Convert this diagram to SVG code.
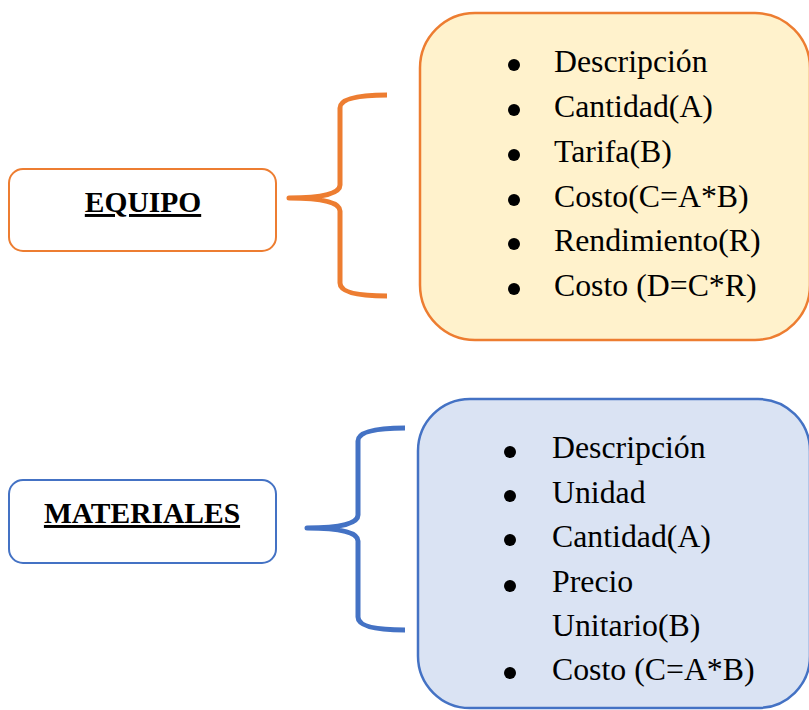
<svg xmlns="http://www.w3.org/2000/svg" width="809" height="710" viewBox="0 0 809 710">
<style>
.title{font-family:"Liberation Serif","Times New Roman",serif;font-weight:bold;font-size:29.5px;text-decoration:underline;fill:#000;text-anchor:middle}
.item{font-family:"Liberation Serif","Times New Roman",serif;font-size:31.8px;fill:#000}
.org{stroke:#ED7D31}
.blu{stroke:#4472C4}
.brace{fill:none;stroke-width:5;stroke-linejoin:round}
.dot{fill:#000}
</style>
<rect width="809" height="710" fill="#fff"/>
<g id="equipo">
<rect x="9" y="169" width="267" height="82" rx="14" fill="#fff" class="org" stroke-width="2"/>
<text x="143" y="212" class="title">EQUIPO</text>
</g>
<g id="equipo-list">
<rect x="420" y="13" width="390" height="327" rx="55" fill="#FFF2CC" class="org" stroke-width="2.5"/>
<circle cx="514" cy="65" r="6" class="dot"/>
<circle cx="514" cy="110" r="6" class="dot"/>
<circle cx="514" cy="155" r="6" class="dot"/>
<circle cx="514" cy="200" r="6" class="dot"/>
<circle cx="514" cy="244" r="6" class="dot"/>
<circle cx="514" cy="289" r="6" class="dot"/>
<text x="554" y="72" class="item">Descripción</text>
<text x="554" y="117" class="item">Cantidad(A)</text>
<text x="554" y="162" class="item">Tarifa(B)</text>
<text x="554" y="207" class="item">Costo(C=A*B)</text>
<text x="554" y="251" class="item">Rendimiento(R)</text>
<text x="554" y="296" class="item">Costo (D=C*R)</text>
</g>
<g id="materiales">
<rect x="9" y="480" width="267" height="83" rx="14" fill="#fff" class="blu" stroke-width="2"/>
<text x="142" y="523" class="title">MATERIALES</text>
</g>
<g id="materiales-list">
<rect x="418" y="399" width="392" height="309" rx="52" fill="#DAE3F3" class="blu" stroke-width="2.5"/>
<circle cx="510" cy="452" r="6" class="dot"/>
<circle cx="510" cy="496" r="6" class="dot"/>
<circle cx="510" cy="540" r="6" class="dot"/>
<circle cx="510" cy="586" r="6" class="dot"/>
<circle cx="510" cy="673" r="6" class="dot"/>
<text x="552" y="458" class="item">Descripción</text>
<text x="552" y="503" class="item">Unidad</text>
<text x="552" y="547" class="item">Cantidad(A)</text>
<text x="552" y="592" class="item">Precio</text>
<text x="552" y="636" class="item">Unitario(B)</text>
<text x="552" y="680" class="item">Costo (C=A*B)</text>
</g>
<g id="connectors">
<path class="brace org" d="M387,95 Q340,95 340,108 L340,185 Q340,198 289,198 Q340,198 340,211 L340,283 Q340,296 387,296"/>
<path class="brace blu" d="M405,428 Q358,428 358,441 L358,515 Q358,528 307,528 Q358,528 358,541 L358,617 Q358,630 405,630"/>
</g>
</svg>
